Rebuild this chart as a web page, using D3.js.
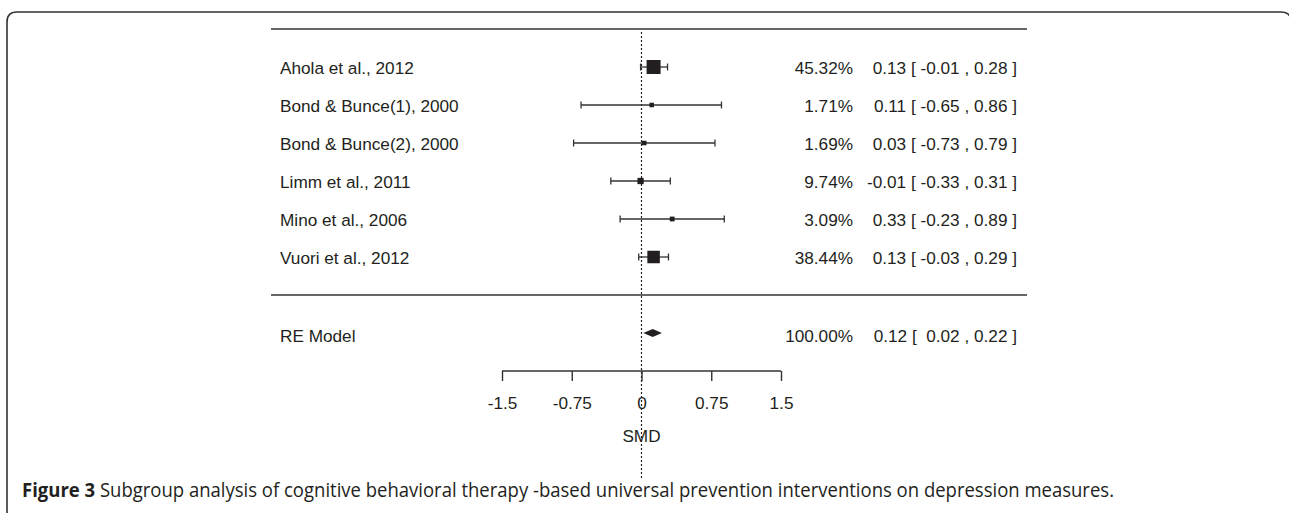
<!DOCTYPE html>
<html lang="en">
<head>
  <meta charset="utf-8">
  <title>Forest plot - CBT universal prevention</title>
  <script src="https://d3js.org/d3.v7.min.js"></script>
  <style>
    body { margin: 0; background: #fff; }
    svg { display: block; }
    text { font-family: "Liberation Sans", Arial, sans-serif; fill: #231f20; white-space: pre; }
    .caption { font-family: "Open Sans", "DejaVu Sans", sans-serif; }
  </style>
</head>
<body>
<svg width="1289" height="513"></svg>
<script>
// study data
const studies = ["Ahola et al., 2012", "Bond & Bunce(1), 2000", "Bond & Bunce(2), 2000",
                 "Limm et al., 2011", "Mino et al., 2006", "Vuori et al., 2012"];
const est   = [0.13, 0.11, 0.03, -0.01, 0.33, 0.13];
const lower = [-0.01, -0.65, -0.73, -0.33, -0.23, -0.03];
const upper = [0.28, 0.86, 0.79, 0.31, 0.89, 0.29];
const weights = [45.32, 1.71, 1.69, 9.74, 3.09, 38.44];
const ciText = ["0.13 [ -0.01 , 0.28 ]", "0.11 [ -0.65 , 0.86 ]", "0.03 [ -0.73 , 0.79 ]",
                "-0.01 [ -0.33 , 0.31 ]", "0.33 [ -0.23 , 0.89 ]", "0.13 [ -0.03 , 0.29 ]"];

// pooled
const reLabel = "RE Model";
const reEst = 0.12, reLower = 0.02, reUpper = 0.22;
const reWeight = "100.00%";
const reText = "0.12 [  0.02 , 0.22 ]";

const ticks = [-1.5, -0.75, 0, 0.75, 1.5];
const tickLabels = ["-1.5", "-0.75", "0", "0.75", "1.5"];
const xTitle = "SMD";

const svg = d3.select("svg");
const ink = "#231f20";
const fs = 17.2;

const x = d3.scaleLinear().domain([-1.5, 1.5]).range([502, 781]);
// row 6 = first study, row 0 = separator, row -1 = RE model
const y = d3.scaleLinear().domain([0, 6]).range([295, 67]);
const size = d3.scaleLinear().domain([d3.min(weights), d3.max(weights)]).range([4.5, 14]);
const rows = studies.map((s, i) => studies.length - i);

// frame (right edge runs just off the page)
svg.append("path")
  .attr("d", "M7,530 L7,22 Q7,12 17,12 L1281,12 Q1291,12 1291,22 L1291,530")
  .attr("fill", "none").attr("stroke", "#333").attr("stroke-width", 1.6);

// horizontal rules
[7, 0].forEach(r => {
  svg.append("line")
    .attr("x1", 271).attr("x2", 1027)
    .attr("y1", y(r)).attr("y2", y(r))
    .attr("stroke", "#333").attr("stroke-width", 1.4);
});

// reference line at 0
svg.append("line")
  .attr("x1", x(0)).attr("x2", x(0))
  .attr("y1", 32).attr("y2", 478)
  .attr("stroke", ink).attr("stroke-width", 1.2)
  .attr("stroke-dasharray", "2,2");

// study rows
const g = svg.append("g");
studies.forEach((s, i) => {
  const yy = y(rows[i]);
  g.append("line")
    .attr("x1", x(lower[i])).attr("x2", x(upper[i]))
    .attr("y1", yy).attr("y2", yy)
    .attr("stroke", "#333").attr("stroke-width", 1.3);
  [lower[i], upper[i]].forEach(v => {
    g.append("line")
      .attr("x1", x(v)).attr("x2", x(v))
      .attr("y1", yy - 3.5).attr("y2", yy + 3.5)
      .attr("stroke", "#333").attr("stroke-width", 1.3);
  });
  const sz = size(weights[i]);
  g.append("rect")
    .attr("x", x(est[i]) - sz / 2).attr("y", yy - sz / 2)
    .attr("width", sz).attr("height", sz)
    .attr("fill", ink);

  g.append("text").attr("x", 280).attr("y", yy + 1).attr("dy", "0.35em")
    .attr("font-size", fs).text(s);
  g.append("text").attr("x", 853).attr("y", yy + 1).attr("dy", "0.35em")
    .attr("text-anchor", "end").attr("font-size", fs)
    .text(d3.format(".2f")(weights[i]) + "%");
  g.append("text").attr("x", 1017).attr("y", yy + 1).attr("dy", "0.35em")
    .attr("text-anchor", "end").attr("font-size", fs).text(ciText[i]);
});

// RE model row
const yRe = y(-1);
svg.append("path")
  .attr("d", d3.line()([[x(reLower), yRe], [x(reEst), yRe - 4], [x(reUpper), yRe], [x(reEst), yRe + 4]]) + "Z")
  .attr("fill", ink);
svg.append("text").attr("x", 280).attr("y", yRe + 3).attr("dy", "0.35em")
  .attr("font-size", fs).text(reLabel);
svg.append("text").attr("x", 853).attr("y", yRe + 3).attr("dy", "0.35em")
  .attr("text-anchor", "end").attr("font-size", fs).text(reWeight);
svg.append("text").attr("x", 1017).attr("y", yRe + 3).attr("dy", "0.35em")
  .attr("text-anchor", "end").attr("font-size", fs).text(reText);

// x axis
const axisY = 371;
const axis = d3.axisBottom(x).tickValues(ticks)
  .tickFormat((d, i) => tickLabels[i]).tickSize(10).tickPadding(16);
const ag = svg.append("g").attr("transform", `translate(0,${axisY})`).call(axis);
ag.select(".domain").attr("d", `M${x(-1.5)},0H${x(1.5)}`).attr("stroke", "#333").attr("stroke-width", 1.4);
ag.selectAll(".tick line").attr("stroke", "#333").attr("stroke-width", 1.4);
ag.selectAll(".tick text").attr("font-size", fs).attr("fill", ink)
  .style("font-family", "'Liberation Sans', Arial, sans-serif");

svg.append("text").attr("x", x(0)).attr("y", 436).attr("dy", "0.35em")
  .attr("text-anchor", "middle").attr("font-size", fs).text(xTitle);

// caption
const cap = svg.append("text").attr("class", "caption")
  .attr("x", 22).attr("y", 497).attr("font-size", 19.5)
  .attr("textLength", 1092).attr("lengthAdjust", "spacingAndGlyphs");
cap.append("tspan").attr("font-weight", "bold").text("Figure 3");
cap.append("tspan").text(" Subgroup analysis of cognitive behavioral therapy -based universal prevention interventions on depression measures.");
</script>
</body>
</html>
